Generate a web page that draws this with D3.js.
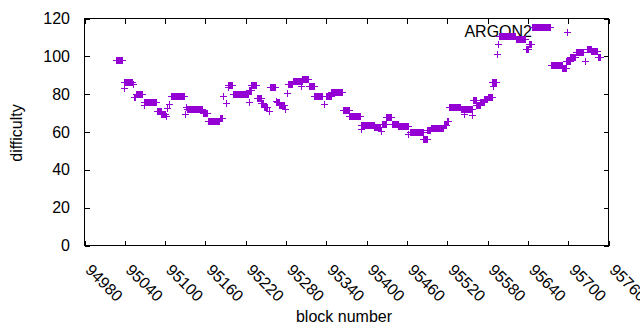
<!DOCTYPE html>
<html>
<head>
<meta charset="utf-8">
<script src="https://cdn.jsdelivr.net/npm/d3@7/dist/d3.min.js"></script>
<style>
  body { margin: 0; background: #fff; }
  text { font-family: "Liberation Sans", Arial, sans-serif; font-size: 16px; fill: #000; }
</style>
</head>
<body>
<div id="chart"></div>
<script>
// difficulty per block, stored as runs of equal value (first block, last block, value)
var runStart = [95027, 95039, 95040, 95053, 95054, 95057, 95069, 95070, 95088, 95095,
	95102, 95103, 95106, 95110, 95130, 95132, 95133, 95157, 95164, 95182,
	95187, 95191, 95194, 95195, 95202, 95225, 95226, 95229, 95237, 95244,
	95248, 95256, 95257, 95266, 95267, 95271, 95279, 95282, 95283, 95291,
	95303, 95305, 95315, 95323, 95337, 95340, 95348, 95365, 95375, 95392,
	95393, 95397, 95412, 95422, 95423, 95430, 95438, 95448, 95463, 95465,
	95485, 95491, 95496, 95516, 95520, 95523, 95541, 95546, 95557, 95559,
	95564, 95570, 95576, 95581, 95588, 95589, 95595, 95597, 95598, 95623,
	95638, 95642, 95647, 95675, 95692, 95698, 95704, 95712, 95726, 95729,
	95735, 95745];
var runEnd = [95037, 95039, 95052, 95053, 95056, 95067, 95069, 95087, 95094, 95101,
	95102, 95103, 95106, 95129, 95130, 95132, 95156, 95163, 95181, 95186,
	95187, 95191, 95194, 95201, 95224, 95225, 95228, 95236, 95243, 95247,
	95253, 95256, 95265, 95266, 95270, 95278, 95279, 95282, 95290, 95304,
	95303, 95314, 95322, 95335, 95337, 95347, 95364, 95374, 95391, 95396,
	95393, 95411, 95421, 95422, 95429, 95437, 95447, 95462, 95463, 95484,
	95490, 95495, 95515, 95519, 95522, 95540, 95558, 95546, 95557, 95563,
	95569, 95575, 95580, 95587, 95594, 95589, 95595, 95597, 95622, 95637,
	95641, 95646, 95674, 95691, 95697, 95703, 95711, 95723, 95726, 95734,
	95743, 95748];
var runValue = [98, 83, 86, 85, 78.5, 80, 74, 75.5, 71, 69,
	68, 72.5, 74.5, 79, 69, 73, 72, 70, 65.5, 67,
	79, 75, 83.5, 84.5, 80, 75.5, 82, 84.5, 77.5, 75,
	73, 71, 83.5, 76, 75.5, 74, 72, 80.5, 85, 86.5,
	84, 88, 84, 79, 74.5, 79, 81, 71.5, 68, 63.5,
	61.5, 63.5, 62.5, 60.5, 64, 67.5, 64, 63, 58.5, 60,
	56, 61, 62, 63.5, 65.5, 73, 72, 69, 68.5, 76.5,
	74, 75.5, 77, 78, 86, 84, 101, 106.5, 110.5, 109,
	103.5, 106.5, 115, 95, 93.5, 97.5, 99.5, 102, 97.5, 103.5,
	102.5, 99.5];

var xTicks = [94980, 95040, 95100, 95160, 95220, 95280, 95340, 95400, 95460, 95520, 95580, 95640, 95700, 95760];
var yTicks = [0, 20, 40, 60, 80, 100, 120];
var seriesName = "ARGON2";

var width = 640, height = 330;
var plotLeft = 84.5, plotRight = 608.5, plotTop = 18.5, plotBottom = 245.5;
var color = "#9400d3";

var points = [];
for (var r = 0; r < runStart.length; r++) {
	for (var b = runStart[r]; b <= runEnd[r]; b++) {
		points.push({ block: b, value: runValue[r] });
	}
}

var svg = d3.select("#chart").append("svg")
	.attr("width", width).attr("height", height);
svg.append("rect").attr("width", width).attr("height", height).attr("fill", "#fff");

var x = d3.scaleLinear().domain([94980, 95760]).range([plotLeft, plotRight]);
var y = d3.scaleLinear().domain([0, 120]).range([plotBottom, plotTop]);

var tickLen = 5;
var ticks = svg.append("g").attr("stroke", "#000").attr("stroke-width", 1)
	.attr("shape-rendering", "crispEdges");
// x ticks, bottom and mirrored on top, pointing inward
xTicks.forEach(function(t) {
	var px = Math.round(x(t)) + 0.5;
	ticks.append("line").attr("x1", px).attr("x2", px).attr("y1", plotBottom).attr("y2", plotBottom - tickLen);
	ticks.append("line").attr("x1", px).attr("x2", px).attr("y1", plotTop).attr("y2", plotTop + tickLen);
});
yTicks.forEach(function(t) {
	var py = Math.round(y(t)) + 0.5;
	ticks.append("line").attr("x1", plotLeft).attr("x2", plotLeft + tickLen).attr("y1", py).attr("y2", py);
	ticks.append("line").attr("x1", plotRight).attr("x2", plotRight - tickLen).attr("y1", py).attr("y2", py);
});

// tick labels
svg.append("g").selectAll("text").data(yTicks).enter().append("text")
	.attr("x", 70).attr("y", function(d) { return y(d); })
	.attr("dy", "0.35em").attr("text-anchor", "end")
	.text(function(d) { return d; });

svg.append("g").selectAll("text").data(xTicks).enter().append("text")
	.attr("transform", function(d) { return "translate(" + x(d) + ",271) rotate(45)"; })
	.attr("text-anchor", "start")
	.text(function(d) { return d; });

// axis titles
svg.append("text").attr("transform", "translate(22,133) rotate(-90)")
	.attr("text-anchor", "middle").text("difficulty");
svg.append("text").attr("x", 344).attr("y", 322)
	.attr("text-anchor", "middle").text("block number");

// key
svg.append("text").attr("x", 532).attr("y", 37).attr("text-anchor", "end").text(seriesName);

var plus = "M-3.5,0H3.5M0,-3.5V3.5";
svg.append("path").attr("d", plus).attr("transform", "translate(567,32)")
	.attr("stroke", color).attr("fill", "none").attr("shape-rendering", "crispEdges");

// points
svg.append("g").selectAll("path").data(points).enter().append("path")
	.attr("d", plus)
	.attr("transform", function(d) { return "translate(" + x(d.block) + "," + y(d.value) + ")"; })
	.attr("stroke", color).attr("stroke-width", 1).attr("fill", "none")
	.attr("shape-rendering", "crispEdges");

// border
svg.append("rect").attr("x", plotLeft).attr("y", plotTop)
	.attr("width", plotRight - plotLeft).attr("height", plotBottom - plotTop)
	.attr("fill", "none").attr("stroke", "#000").attr("stroke-width", 1)
	.attr("shape-rendering", "crispEdges");
</script>
</body>
</html>
